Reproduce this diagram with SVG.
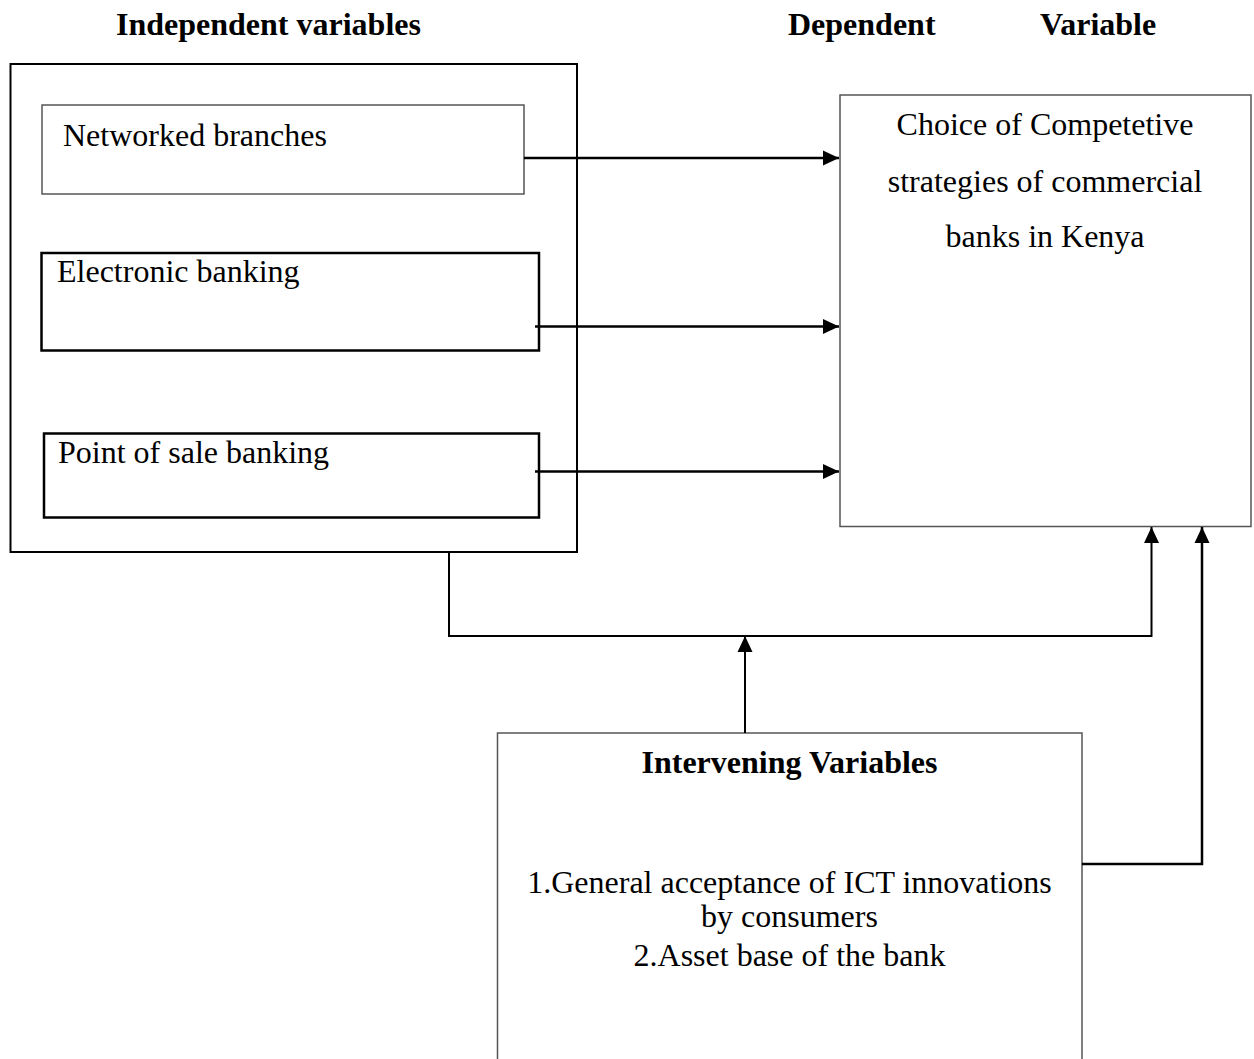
<svg xmlns="http://www.w3.org/2000/svg" width="1254" height="1059" viewBox="0 0 1254 1059">
  <style>
    text { font-family: "Liberation Serif", "Times New Roman", serif; font-size: 32px; fill: #000; }
    .b { font-weight: bold; }
    .mid { text-anchor: middle; }
    .gray { fill: #fff; stroke: #555; stroke-width: 1.5; }
    .dark { fill: #fff; stroke: #000; stroke-width: 2.5; }
    .outer { fill: none; stroke: #000; stroke-width: 2; }
    .conn { fill: none; stroke: #000; stroke-width: 2.5; }
    .thin { fill: none; stroke: #000; stroke-width: 2; }
  </style>
  <defs>
    <marker id="ah" markerUnits="userSpaceOnUse" markerWidth="16" markerHeight="16" viewBox="0 0 16 16" refX="16" refY="8" orient="auto">
      <polygon points="0,0.5 16,8 0,15.5" fill="#000"/>
    </marker>
  </defs>
  <rect width="1254" height="1059" fill="#fff"/>

  <g id="headers">
    <text class="b" x="116" y="35">Independent variables</text>
    <text class="b" x="788" y="35">Dependent</text>
    <text class="b" x="1040" y="35">Variable</text>
  </g>

  <g id="independent-group">
    <rect class="outer" x="10.5" y="64" width="566.5" height="488"/>
  </g>

  <g id="networked-branches">
    <rect class="gray" x="42" y="105" width="482" height="89"/>
    <text x="63" y="146">Networked branches</text>
  </g>

  <g id="electronic-banking">
    <rect class="dark" x="41.5" y="253" width="497.5" height="97.5"/>
    <text x="57" y="282">Electronic banking</text>
  </g>

  <g id="point-of-sale-banking">
    <rect class="dark" x="44" y="433.5" width="495" height="84"/>
    <text x="58" y="463">Point of sale banking</text>
  </g>

  <g id="dependent-variable">
    <rect class="gray" x="840" y="95" width="411" height="431.5"/>
    <text class="mid" x="1045" y="135">Choice of Competetive</text>
    <text class="mid" x="1045" y="192">strategies of commercial</text>
    <text class="mid" x="1045" y="247">banks in Kenya</text>
  </g>

  <g id="intervening-variables">
    <rect class="gray" x="497.5" y="733" width="584.5" height="340"/>
    <text class="b mid" x="789.5" y="773">Intervening Variables</text>
    <text class="mid" x="789.5" y="893">1.General acceptance of ICT innovations</text>
    <text class="mid" x="789.5" y="927">by consumers</text>
    <text class="mid" x="789.5" y="966">2.Asset base of the bank</text>
  </g>

  <g id="connectors">
    <line class="conn" x1="524" y1="158" x2="839" y2="158" marker-end="url(#ah)"/>
    <line class="conn" x1="535" y1="326.5" x2="839" y2="326.5" marker-end="url(#ah)"/>
    <line class="conn" x1="535" y1="471.5" x2="839" y2="471.5" marker-end="url(#ah)"/>
    <polyline class="thin" points="449,552 449,636 1151.5,636 1151.5,527" marker-end="url(#ah)"/>
    <line class="thin" x1="745" y1="733" x2="745" y2="636" marker-end="url(#ah)"/>
    <polyline class="conn" points="1082,864 1202,864 1202,527" marker-end="url(#ah)"/>
  </g>
</svg>
